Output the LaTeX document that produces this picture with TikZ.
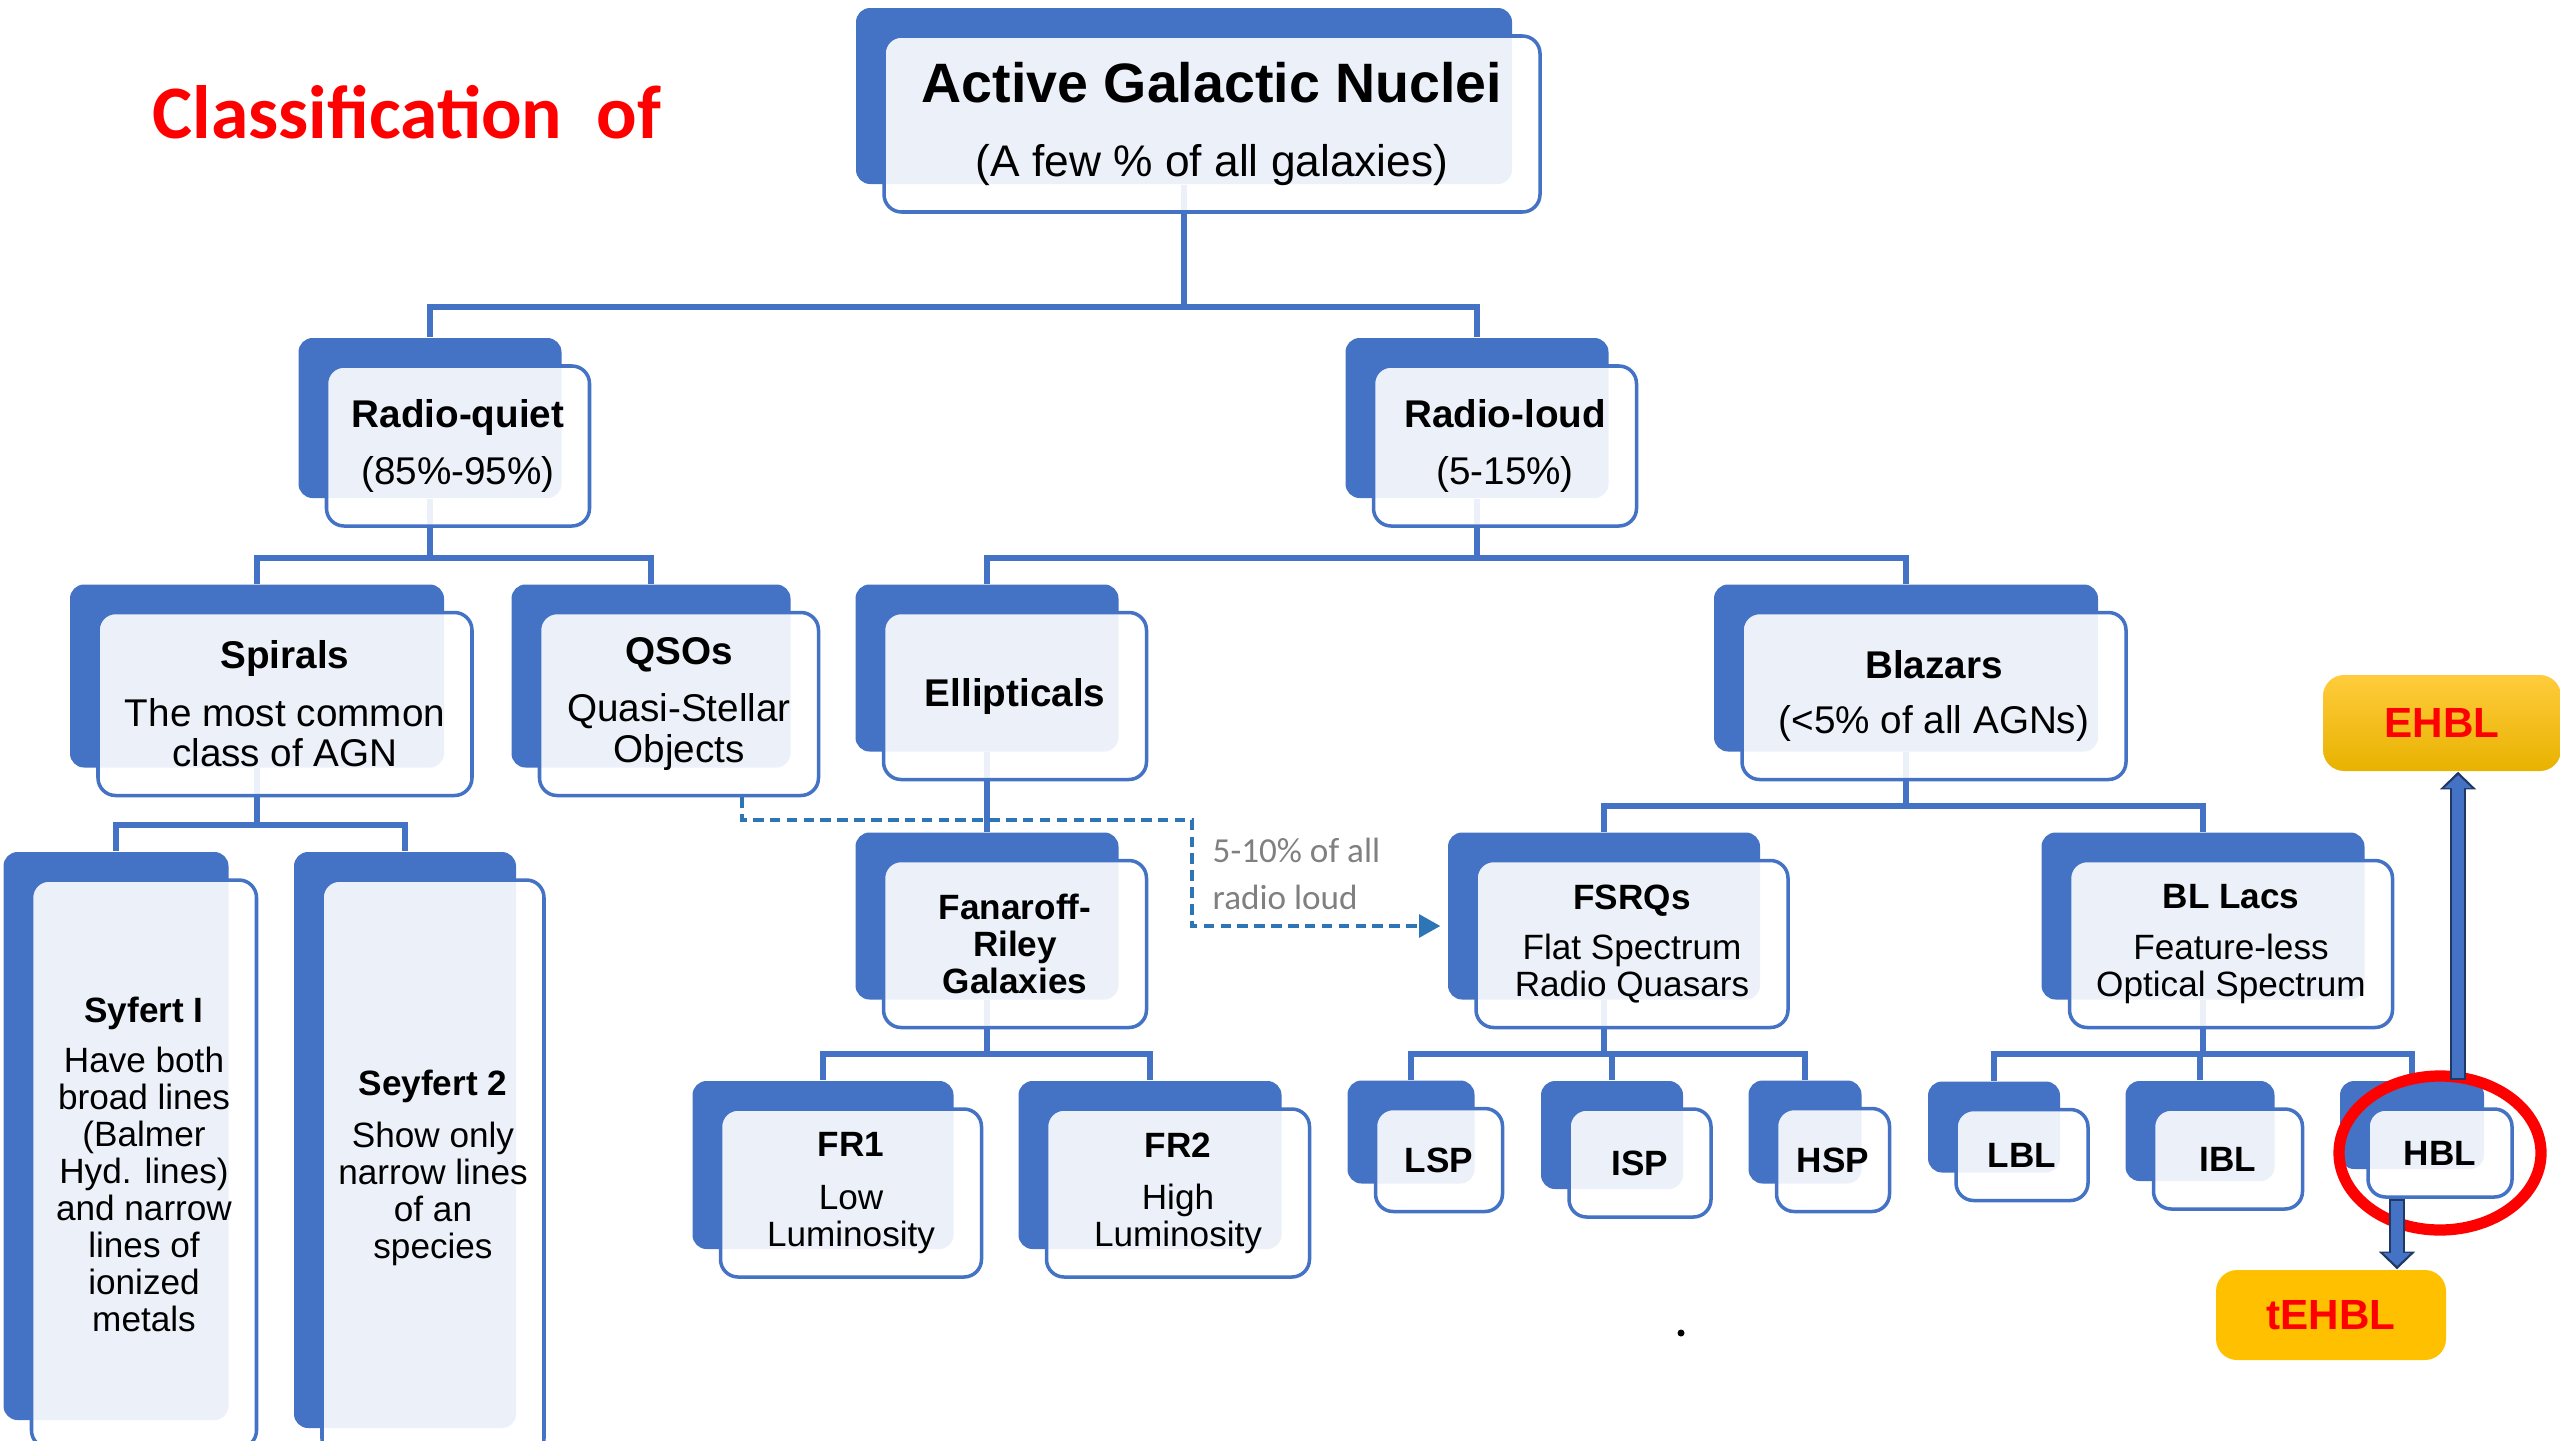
\documentclass[tikz,border=0pt]{standalone}
\usepackage{fontspec}
\setmainfont{Liberation Sans}
\newfontfamily\calib{Carlito}
\usetikzlibrary{positioning,arrows.meta,backgrounds,calc}

\definecolor{agnblue}{RGB}{68,114,196}
\definecolor{arrowedge}{RGB}{31,56,100}
\definecolor{dashblue}{RGB}{46,117,182}
\definecolor{notegray}{RGB}{128,128,128}
\definecolor{amber}{RGB}{255,192,0}
\definecolor{amberlight}{RGB}{255,204,60}
\definecolor{amberdark}{RGB}{232,178,0}

\begin{document}
\begin{tikzpicture}[
    back/.style={fill=agnblue, rounded corners=4pt, inner sep=0pt},
    front/.style={draw=agnblue, line width=1pt, fill=white, fill opacity=0.9, text opacity=1,
                  rounded corners=5pt, align=center, inner sep=0pt},
    sz/.style 2 args={minimum width=#1cm, minimum height=#2cm},
    lvlA/.style={font=\fontsize{11}{11.6}\selectfont},
    lvlB/.style={font=\fontsize{10}{10.5}\selectfont},
    link/.style={draw=agnblue, line width=1.6pt},
    dashlink/.style={draw=dashblue, line width=0.9pt, dash pattern=on 3pt off 1.8pt,
                     -{Triangle[length=6pt, width=6.5pt]}, shorten >=2pt},
    note/.style={text=notegray, font=\calib\fontsize{10}{13.1}\selectfont, align=left, inner sep=0pt},
    goldbox/.style={rounded corners=6pt, inner sep=0pt, text=red,
                    font=\bfseries\fontsize{12}{12}\selectfont},
    fatedge/.style={draw=arrowedge, line width=4.7pt, -{Triangle[length=5pt, width=10pt]}},
    fatfill/.style={draw=agnblue, line width=3.3pt, -{Triangle[length=3.7pt, width=7.6pt]},
                    shorten >=0.95pt, shorten <=0.7pt},
    ring/.style={draw=red, line width=3.2pt},
  ]
    \useasboundingbox (0,0) rectangle (25.6,-14.4);

    % Heading
    \node[anchor=base west, inner sep=0pt, text=red, font=\calib\bfseries\fontsize{21.5}{22}\selectfont]
        (title) at (1.52,-1.38) {Classification\ \ of};

    % Root
    \node[back, sz={6.56}{1.76}] (agn) at (11.84,-0.96) {};
    \node[front, sz={6.56}{1.76}, font=\fontsize{12.6}{15}\selectfont] (agn-f) at ([shift={(.28,-.28)}]agn.center)
        {{\bfseries\fontsize{15.8}{15}\selectfont Active Galactic Nuclei}\\[6.3pt](A few \% of all galaxies)};

    % Radio-quiet / radio-loud
    \node[back, sz={2.63}{1.60}] (rq) at (4.30,-4.18) {};
    \node[front, sz={2.63}{1.60}, lvlA] (rq-f) at ([shift={(.28,-.28)}]rq.center)
        {\textbf{Radio-quiet}\\[4.7pt](85\%-95\%)};
    \node[back, sz={2.63}{1.60}] (rl) at (14.77,-4.18) {};
    \node[front, sz={2.63}{1.60}, lvlA] (rl-f) at ([shift={(.28,-.28)}]rl.center)
        {\textbf{Radio-loud}\\[4.7pt](5-15\%)};

    % Host types
    \node[back, sz={3.74}{1.83}] (spir) at (2.57,-6.76) {};
    \node[front, sz={3.74}{1.83}, lvlA] (spir-f) at ([shift={(.28,-.28)}]spir.center)
        {\textbf{Spirals}\\[4.7pt]The most common\\class of AGN};
    \node[back, sz={2.79}{1.83}] (qso) at (6.51,-6.76) {};
    \node[front, sz={2.79}{1.83}, lvlA] (qso-f) at ([shift={(.28,-.28)}]qso.center)
        {\textbf{QSOs}\\[4.7pt]Quasi-Stellar\\Objects};
    \node[back, sz={2.63}{1.67}] (ell) at (9.87,-6.68) {};
    \node[front, sz={2.63}{1.67}, lvlA] (ell-f) at ([shift={(.28,-.28)}]ell.center)
        {\textbf{Ellipticals}};
    \node[back, sz={3.84}{1.67}] (blz) at (19.06,-6.68) {};
    \node[front, sz={3.84}{1.67}, lvlA] (blz-f) at ([shift={(.28,-.28)}]blz.center)
        {\textbf{Blazars}\\[4.2pt](<5\% of all AGNs)};

    % Seyferts
    \node[back, sz={2.25}{5.68}] (sy1) at (1.16,-11.36) {};
    \node[front, sz={2.25}{5.68}, lvlB] (sy1-f) at ([shift={(.28,-.28)}]sy1.center)
        {\textbf{Syfert I}\\[3.9pt]Have both\\broad lines\\(Balmer\\Hyd. lines)\\and narrow\\lines of\\ionized\\metals};
    \node[back, sz={2.22}{5.76}] (sy2) at (4.05,-11.40) {};
    \node[front, sz={2.22}{5.76}, lvlB] (sy2-f) at ([shift={(.28,-.28)}]sy2.center)
        {\textbf{Seyfert 2}\\[4.4pt]Show only\\narrow lines\\of an\\species};

    % Fanaroff-Riley branch
    \node[back, sz={2.63}{1.67}] (fr) at (9.87,-9.16) {};
    \node[front, sz={2.63}{1.67}, lvlB] (fr-f) at ([shift={(.28,-.28)}]fr.center)
        {\textbf{Fanaroff-}\\\textbf{Riley}\\\textbf{Galaxies}};
    \node[back, sz={2.61}{1.68}] (fr1) at (8.23,-11.65) {};
    \node[front, sz={2.61}{1.68}, lvlB] (fr1-f) at ([shift={(.28,-.28)}]fr1.center)
        {\textbf{FR1}\\[4.4pt]Low\\Luminosity};
    \node[back, sz={2.63}{1.68}] (fr2) at (11.50,-11.65) {};
    \node[front, sz={2.63}{1.68}, lvlB] (fr2-f) at ([shift={(.28,-.28)}]fr2.center)
        {\textbf{FR2}\\[4.4pt]High\\Luminosity};

    % Blazar branch
    \node[back, sz={3.12}{1.67}] (fsrq) at (16.04,-9.16) {};
    \node[front, sz={3.12}{1.67}, lvlB] (fsrq-f) at ([shift={(.28,-.28)}]fsrq.center)
        {\textbf{FSRQs}\\[3.9pt]Flat Spectrum\\Radio Quasars};
    \node[back, sz={3.23}{1.67}] (bll) at (22.03,-9.16) {};
    \node[front, sz={3.23}{1.67}, lvlB] (bll-f) at ([shift={(.28,-.28)}]bll.center)
        {\textbf{BL Lacs}\\[3.9pt]Feature-less\\Optical Spectrum};

    % Peak classes
    \node[back, sz={1.27}{1.03}] (lsp) at (14.11,-11.32) {};
    \node[front, sz={1.27}{1.03}, lvlB] (lsp-f) at ([shift={(.28,-.28)}]lsp.center) {\textbf{LSP}};
    \node[back, sz={1.42}{1.08}] (isp) at (16.12,-11.35) {};
    \node[front, sz={1.42}{1.08}, lvlB] (isp-f) at ([shift={(.28,-.28)}]isp.center) {\textbf{ISP}};
    \node[back, sz={1.13}{1.03}] (hsp) at (18.05,-11.32) {};
    \node[front, sz={1.13}{1.03}, lvlB] (hsp-f) at ([shift={(.28,-.28)}]hsp.center) {\textbf{HSP}};
    \node[back, sz={1.32}{0.91}] (lbl) at (19.94,-11.27) {};
    \node[front, sz={1.32}{0.91}, lvlB] (lbl-f) at ([shift={(.28,-.28)}]lbl.center) {\textbf{LBL}};
    \node[back, sz={1.49}{1.00}] (ibl) at (22.00,-11.31) {};
    \node[front, sz={1.49}{1.00}, lvlB] (ibl-f) at ([shift={(.28,-.28)}]ibl.center) {\textbf{IBL}};
    \node[back, sz={1.44}{0.88}] (hbl) at (24.12,-11.25) {};
    \node[front, sz={1.44}{0.88}, lvlB] (hbl-f) at ([shift={(.28,-.28)}]hbl.center) {\textbf{HBL}};

    % Tree connectors, behind the boxes
    \begin{scope}[on background layer]
      \foreach \child in {rq,rl}       \draw[link] (agn.south)  -- ++(0,-1.22) -| (\child.north);
      \foreach \child in {spir,qso}    \draw[link] (rq.south)   -- ++(0,-0.59) -| (\child.north);
      \foreach \child in {ell,blz}     \draw[link] (rl.south)   -- ++(0,-0.59) -| (\child.north);
      \foreach \child in {sy1,sy2}     \draw[link] (spir.south) -- ++(0,-0.57) -| (\child.north);
      \draw[link] (ell.south) -- (fr.north);
      \foreach \child in {fsrq,bll}    \draw[link] (blz.south)  -- ++(0,-0.54) -| (\child.north);
      \foreach \child in {fr1,fr2}     \draw[link] (fr.south)   -- ++(0,-0.54) -| (\child.north);
      \foreach \child in {lsp,isp,hsp} \draw[link] (fsrq.south) -- ++(0,-0.54) -| (\child.north);
      \foreach \child in {lbl,ibl,hbl} \draw[link] (bll.south)  -- ++(0,-0.54) -| (\child.north);
    \end{scope}

    % QSO share of radio loud
    \coordinate (bend) at (11.92,-8.20);
    \draw[dashlink] ([xshift=.63cm]qso-f.south) |- (bend) |- ([yshift=-.1cm]fsrq.west);
    \node[note, anchor=base west] (share) at (12.12,-9.09) {5-10\% of all\\radio loud};

    \fill (16.81,-13.33) circle (0.035);

    % HBL split
    \draw[ring] (hbl-f.center) ellipse [x radius=1.01cm, y radius=0.77cm];
    \node[goldbox, sz={2.38}{0.96}, top color=amberlight, middle color=amber, bottom color=amberdark]
        (ehbl) at (24.42,-7.23) {EHBL};
    \node[goldbox, sz={2.30}{0.90}, fill=amber] (tehbl) at (23.31,-13.15) {tEHBL};

    \coordinate (up0) at ([xshift=.46cm]hbl.north);
    \draw[fatedge] (up0) -- (up0 |- ehbl.south);
    \draw[fatfill] (up0) -- (up0 |- ehbl.south);
    \coordinate (dn0) at ([xshift=-.43cm]hbl-f.south);
    \draw[fatedge] (dn0) -- (dn0 |- tehbl.north);
    \draw[fatfill] (dn0) -- (dn0 |- tehbl.north);
  \end{tikzpicture}
\end{document}
